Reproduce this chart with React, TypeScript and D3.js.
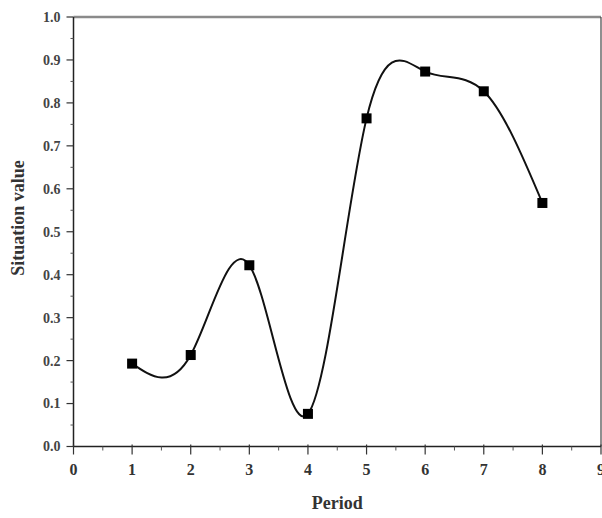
import React from "react";
import * as d3 from "d3";

const periods = [1, 2, 3, 4, 5, 6, 7, 8];
const situationValues = [0.193, 0.213, 0.422, 0.076, 0.764, 0.873, 0.827, 0.567];
const xTicks = [0, 1, 2, 3, 4, 5, 6, 7, 8, 9];
const yTicks = [0, 0.1, 0.2, 0.3, 0.4, 0.5, 0.6, 0.7, 0.8, 0.9, 1.0];

const W = 602;
const H = 518;
const margin = { left: 73.5, right: 1, top: 17, bottom: 71.5 };

export default function App() {
  const x = d3.scaleLinear().domain([0, 9]).range([margin.left, W - margin.right]);
  const y = d3.scaleLinear().domain([0, 1]).range([H - margin.bottom, margin.top]);

  const pts: [number, number][] = periods.map((p, i) => [p, situationValues[i]]);
  const line = d3
    .line<[number, number]>()
    .x((d) => x(d[0]))
    .y((d) => y(d[1]))
    .curve(d3.curveNatural);

  const xMinor = d3.range(0.5, 9, 1);
  const yMinor = d3.range(0.05, 1, 0.1);
  const font = "'Liberation Serif', 'Times New Roman', serif";
  const x0 = x(0);
  const y0 = y(0);

  return (
    <svg
      width={W}
      height={H}
      style={{ position: "absolute", left: 0, top: 0, background: "#fff" }}
    >
      {/* frame */}
      <line x1={x0} x2={x(9)} y1={y(1)} y2={y(1)} stroke="#8a8a8a" strokeWidth={2.5} />
      <line x1={x(9)} x2={x(9)} y1={y(1)} y2={y0} stroke="#444" strokeWidth={1.2} />

      {/* axes */}
      <line x1={x0} x2={x(9)} y1={y0} y2={y0} stroke="#222" strokeWidth={1.5} />
      <line x1={x0} x2={x0} y1={y(1)} y2={y0} stroke="#222" strokeWidth={1.5} />

      {xTicks.map((t) => (
        <g key={"xt" + t}>
          <line x1={x(t)} x2={x(t)} y1={y0 - 2} y2={y0 + 8} stroke="#333" strokeWidth={1.2} />
          <text
            x={x(t)}
            y={y0 + 28}
            textAnchor="middle"
            fontFamily={font}
            fontSize={16}
            fontWeight="bold"
            fill="#333"
          >
            {t}
          </text>
        </g>
      ))}
      {xMinor.map((t) => (
        <line key={"xm" + t} x1={x(t)} x2={x(t)} y1={y0} y2={y0 + 4} stroke="#555" strokeWidth={1} />
      ))}

      {yTicks.map((t) => (
        <g key={"yt" + t}>
          <line x1={x0 - 7} x2={x0} y1={y(t)} y2={y(t)} stroke="#333" strokeWidth={1.2} />
          <text
            x={x0 - 13}
            y={y(t)}
            dy="0.35em"
            textAnchor="end"
            fontFamily={font}
            fontSize={14}
            fontWeight="bold"
            fill="#444"
          >
            {t.toFixed(1)}
          </text>
        </g>
      ))}
      {yMinor.map((t) => (
        <line key={"ym" + t} x1={x0 - 3} x2={x0} y1={y(t)} y2={y(t)} stroke="#555" strokeWidth={1} />
      ))}

      {/* curve and markers */}
      <path d={line(pts) ?? ""} fill="none" stroke="#111" strokeWidth={2} />
      {pts.map((d, i) => (
        <rect
          key={"m" + i}
          x={x(d[0]) - 5}
          y={y(d[1]) - 5}
          width={10}
          height={10}
          fill="#000"
        />
      ))}

      {/* axis titles */}
      <text
        x={x(4.5)}
        y={509}
        textAnchor="middle"
        fontFamily={font}
        fontSize={18}
        fontWeight="bold"
        fill="#333"
      >
        Period
      </text>
      <text
        transform={`translate(24, ${218}) rotate(-90)`}
        textAnchor="middle"
        fontFamily={font}
        fontSize={18}
        fontWeight="bold"
        fill="#333"
      >
        Situation value
      </text>
    </svg>
  );
}
